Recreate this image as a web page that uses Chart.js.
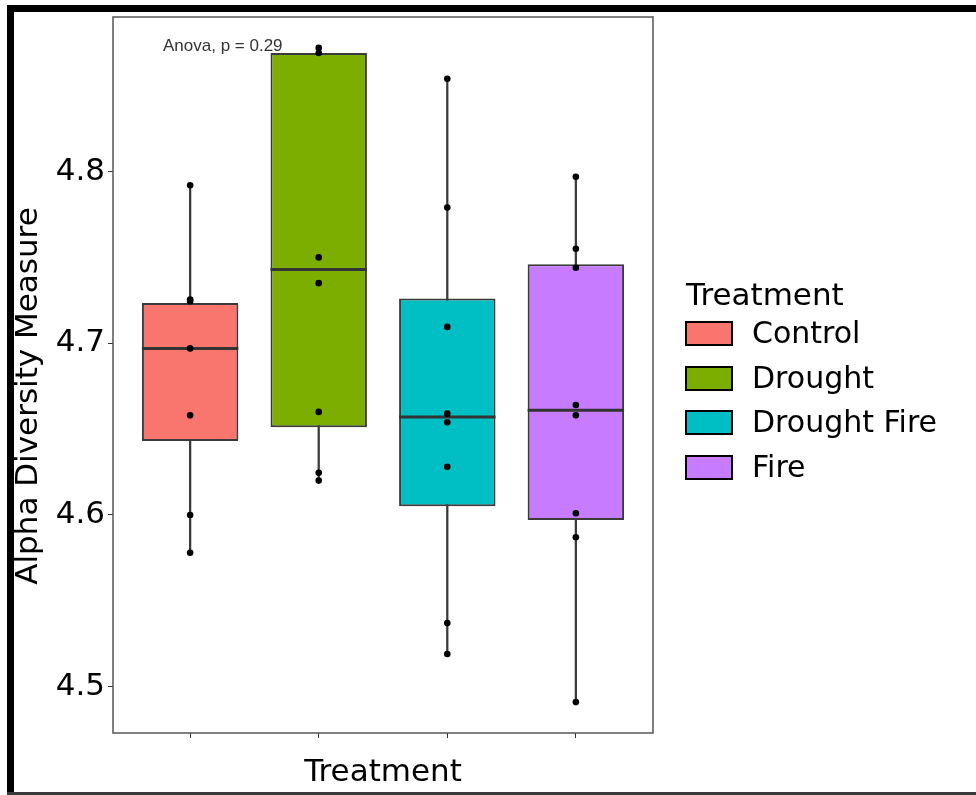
<!DOCTYPE html>
<html>
<head>
<meta charset="utf-8">
<script src="https://cdn.jsdelivr.net/npm/chart.js@4"></script>
<style>
  html, body { margin: 0; padding: 0; background: #fff; }
  #wrap { position: relative; width: 976px; height: 795px; overflow: hidden; }
  #c { position: absolute; left: 0; top: 0; }
  .bar { position: absolute; background: #000; }
  #legend { position: absolute; left: 685px; top: 276px; font-family: "DejaVu Sans", sans-serif; color: #000; }
  #legend .ttl { position: absolute; left: 1px; top: 0; font-size: 31px; line-height: 36px; white-space: nowrap; }
  #legend .item { position: absolute; left: 0; height: 25px; white-space: nowrap; }
  #legend .sw { position: absolute; left: 0; top: 0; width: 44px; height: 21px; border: 2px solid #000; }
  #legend .lab { position: absolute; left: 67px; top: -6px; font-size: 30px; line-height: 36px; }
</style>
</head>
<body>
<div id="wrap">
  <canvas id="c" width="976" height="795"></canvas>
  <div class="bar" style="left:7px;top:5px;width:969px;height:7px;"></div>
  <div class="bar" style="left:7px;top:5px;width:7px;height:790px;"></div>
  <div class="bar" style="left:7px;top:792px;width:969px;height:3px;background:#3a3a3a;"></div>
  <div id="legend"></div>
</div>
<script>
// ---- data ----
const categories = ['Control', 'Drought', 'Drought Fire', 'Fire'];
const colors = ['#F8766D', '#7CAE00', '#00BFC4', '#C77CFF'];
const whiskerLow  = [4.578, 4.620, 4.519, 4.491];
const q1          = [4.643, 4.651, 4.605, 4.597];
const median      = [4.697, 4.743, 4.657, 4.661];
const q3          = [4.7235, 4.869, 4.726, 4.746];
const whiskerHigh = [4.792, 4.872, 4.854, 4.797];
const pointsControl     = [4.792, 4.7255, 4.7245, 4.697, 4.658, 4.600, 4.578];
const pointsDrought     = [4.872, 4.869, 4.750, 4.735, 4.660, 4.6245, 4.620];
const pointsDroughtFire = [4.854, 4.779, 4.7095, 4.659, 4.654, 4.628, 4.537, 4.519];
const pointsFire        = [4.797, 4.755, 4.744, 4.664, 4.658, 4.601, 4.587, 4.491];
const yTicks = [4.5, 4.6, 4.7, 4.8];
const yMin = 4.473, yMax = 4.890;
const anovaText = 'Anova, p = 0.29';
const xTitle = 'Treatment';
const yTitle = 'Alpha Diversity Measure';
const legendTitle = 'Treatment';

const allPoints = [pointsControl, pointsDrought, pointsDroughtFire, pointsFire];
const xPos = categories.map((c, i) => i + 1);

// ---- legend (HTML) ----
const lg = document.getElementById('legend');
lg.innerHTML = '<div class="ttl">' + legendTitle + '</div>' +
  categories.map((c, i) =>
    '<div class="item" style="top:' + (45 + i * 44.7).toFixed(1) + 'px"><div class="sw" style="background:' + colors[i] +
    '"></div><div class="lab">' + c + '</div></div>').join('');

// ---- plugins ----
const boxExtras = {
  id: 'boxExtras',
  beforeDatasetsDraw(chart) {
    const { ctx, chartArea: a } = chart;
    ctx.save();
    ctx.strokeStyle = '#555';
    ctx.lineWidth = 1.5;
    ctx.strokeRect(a.left, a.top, a.right - a.left, a.bottom - a.top);
    ctx.restore();
  },
  afterDatasetDraw(chart, args) {
    if (args.index !== 1) return;
    const { ctx } = chart;
    const y = chart.scales.y;
    const meta = chart.getDatasetMeta(1);
    ctx.save();
    ctx.strokeStyle = '#333';
    ctx.lineWidth = 3;
    meta.data.forEach((el, i) => {
      const py = y.getPixelForValue(median[i]);
      ctx.beginPath();
      ctx.moveTo(el.x - el.width / 2, py);
      ctx.lineTo(el.x + el.width / 2, py);
      ctx.stroke();
    });
    ctx.restore();
  },
  afterDraw(chart) {
    const { ctx, chartArea: a } = chart;
    ctx.save();
    ctx.fillStyle = '#333';
    ctx.font = '17px "Liberation Sans", Arial, sans-serif';
    ctx.textBaseline = 'alphabetic';
    ctx.textAlign = 'left';
    ctx.fillText(anovaText, a.left + 50, a.top + 34);
    ctx.fillStyle = '#000';
    ctx.font = '31px "DejaVu Sans", sans-serif';
    ctx.textAlign = 'center';
    ctx.textBaseline = 'middle';
    ctx.translate(29, 396);
    ctx.rotate(-Math.PI / 2);
    ctx.fillText(yTitle, 0, 0);
    ctx.restore();
  }
};

new Chart(document.getElementById('c'), {
  type: 'bar',
  data: {
    datasets: [
      {
        label: 'whisker',
        data: xPos.map((x, i) => ({ x: x, y: [whiskerLow[i], whiskerHigh[i]] })),
        backgroundColor: '#3a3a3a',
        barThickness: 1.6,
        grouped: false,
        order: 3
      },
      {
        label: 'box',
        data: xPos.map((x, i) => ({ x: x, y: [q1[i], q3[i]] })),
        backgroundColor: colors,
        borderColor: '#3a3a3a',
        borderWidth: 2,
        borderSkipped: false,
        categoryPercentage: 1,
        barPercentage: 0.75,
        grouped: false,
        order: 2
      },
      {
        type: 'line',
        label: 'points',
        data: allPoints.flatMap((arr, i) => arr.map(v => ({ x: xPos[i], y: v }))),
        showLine: false,
        pointRadius: 3.3,
        pointBackgroundColor: '#000',
        pointBorderWidth: 0,
        order: 1
      }
    ]
  },
  options: {
    responsive: false,
    animation: false,
    layout: { padding: { top: 17, right: 323, left: 0, bottom: 0 } },
    plugins: { legend: { display: false }, tooltip: { enabled: false } },
    scales: {
      x: {
        type: 'linear',
        min: 0.4,
        max: 4.6,
        offset: false,
        afterBuildTicks(s) { s.ticks = xPos.map(v => ({ value: v })); },
        afterFit(s) { s.height = 62; s.paddingLeft = 0; s.paddingRight = 0; },
        ticks: { callback: () => '', padding: 0 },
        grid: { offset: false, drawOnChartArea: false, drawTicks: true, tickLength: 5, color: '#333', lineWidth: 1 },
        border: { display: false },
        title: {
          display: true, text: xTitle, color: '#000',
          font: { family: 'DejaVu Sans', size: 31 },
          padding: { top: 0, bottom: 3 }
        }
      },
      y: {
        min: yMin,
        max: yMax,
        afterBuildTicks(s) { s.ticks = yTicks.map(v => ({ value: v })); },
        afterFit(s) { s.width = 113; s.paddingTop = 0; s.paddingBottom = 0; },
        ticks: {
          callback: v => v.toFixed(1),
          color: '#000',
          font: { family: 'DejaVu Sans', size: 31 },
          padding: 3
        },
        grid: { drawOnChartArea: false, drawTicks: true, tickLength: 5, color: '#333', lineWidth: 1 },
        border: { display: false }
      }
    }
  },
  plugins: [boxExtras]
});
</script>
</body>
</html>
